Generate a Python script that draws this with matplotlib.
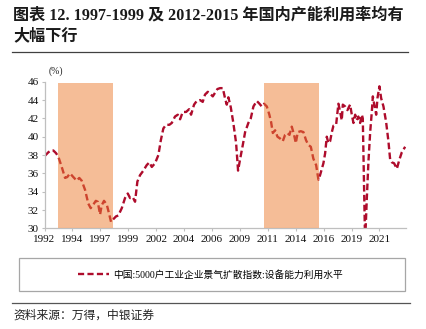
import matplotlib
matplotlib.use("Agg")
import matplotlib.pyplot as plt
from matplotlib.patches import Rectangle
from matplotlib.lines import Line2D

# Capacity utilisation diffusion index (%), decimal-year positions
years = [
    1992.02, 1992.33, 1992.56, 1992.76, 1993.00, 1993.20, 1993.49, 1993.78, 1993.97, 1994.21,
    1994.49, 1994.79, 1995.01, 1995.22, 1995.51, 1995.79, 1996.00, 1996.23, 1996.44, 1996.61,
    1996.81, 1996.95, 1997.15, 1997.39, 1997.59, 1997.76, 1997.96, 1998.19, 1998.39, 1998.69,
    1998.97, 1999.21, 1999.41, 1999.64, 1999.84, 2000.04, 2000.27, 2000.56, 2000.85, 2001.08,
    2001.29, 2001.57, 2001.86, 2002.07, 2002.29, 2002.52, 2002.81, 2003.02, 2003.30, 2003.54,
    2003.74, 2003.97, 2004.26, 2004.52, 2004.69, 2004.95, 2005.18, 2005.47, 2005.70, 2005.90,
    2006.14, 2006.34, 2006.57, 2006.77, 2006.97, 2007.20, 2007.44, 2007.63, 2007.78, 2007.92,
    2008.13, 2008.35, 2008.59, 2008.76, 2008.93, 2009.17, 2009.37, 2009.65, 2009.86, 2010.09,
    2010.38, 2010.61, 2010.81, 2011.01, 2011.25, 2011.47, 2011.62, 2011.77, 2011.97, 2012.17,
    2012.40, 2012.63, 2012.83, 2013.03, 2013.21, 2013.41, 2013.61, 2013.76, 2013.93, 2014.19,
    2014.42, 2014.65, 2014.85, 2015.06, 2015.28, 2015.52, 2015.72, 2015.86, 2016.15, 2016.30,
    2016.44, 2016.58, 2016.73, 2016.88, 2017.02, 2017.25, 2017.45, 2017.60, 2017.74, 2017.83,
    2018.03, 2018.23, 2018.46, 2018.61, 2018.75, 2018.90, 2019.04, 2019.18, 2019.33, 2019.48,
    2019.56, 2019.76, 2019.91, 2020.05, 2020.20, 2020.34, 2020.43, 2020.54, 2020.72, 2020.83,
    2021.00, 2021.15, 2021.35, 2021.58, 2021.78, 2021.93, 2022.08, 2022.27, 2022.51, 2022.73,
    2022.94, 2023.23,
]
utilisation = [
    37.9, 38.3, 38.5, 38.5, 38.2, 37.8, 36.7, 35.5, 35.6, 36.0,
    35.6, 35.2, 35.5, 35.2, 34.2, 32.7, 32.2, 32.6, 33.0, 32.9,
    31.5, 32.5, 33.0, 32.6, 31.6, 30.7, 31.0, 31.3, 31.4, 32.2,
    33.3, 33.8, 33.3, 33.4, 32.9, 35.1, 35.8, 36.3, 36.9, 37.2,
    36.7, 37.1, 38.0, 39.6, 40.9, 41.3, 41.3, 41.5, 42.2, 42.4,
    41.9, 42.7, 42.7, 43.0, 42.4, 43.5, 43.9, 44.0, 43.8, 44.6,
    44.9, 44.7, 44.4, 44.8, 45.2, 45.3, 45.3, 44.2, 43.5, 44.3,
    43.2, 41.5, 39.3, 36.3, 37.5, 39.1, 40.5, 41.5, 42.0, 43.3,
    43.9, 43.6, 43.3, 43.6, 43.3, 42.4, 41.6, 40.4, 40.7, 40.0,
    39.8, 39.5, 40.2, 40.4, 40.2, 41.1, 40.2, 39.3, 40.5, 40.6,
    40.5, 39.6, 39.1, 38.9, 37.6, 36.9, 35.3, 35.8, 37.1, 38.2,
    40.0, 39.3, 39.5, 40.5, 41.2, 41.3, 43.6, 42.7, 41.8, 43.5,
    43.3, 42.9, 43.5, 42.4, 41.5, 42.4, 41.8, 42.2, 41.5, 42.4,
    42.0, 28.5, 33.3, 37.3, 40.5, 42.7, 44.4, 43.6, 42.4, 44.2,
    45.5, 44.2, 43.3, 41.6, 39.5, 37.5, 37.2, 37.1, 36.5, 37.5,
    38.3, 38.9,
]

# Periods of falling utilisation
shade_spans = [(1993.2, 1997.95), (2011.0, 2015.8)]

# Category-style tick labels, one every 29 months
tick_labels = ["1992", "1994", "1997", "1999", "2002", "2004", "2006",
               "2009", "2011", "2014", "2016", "2019", "2021"]
tick_pos = [1992 + i * 29 / 12 for i in range(len(tick_labels))]

y_ticks = list(range(30, 47, 2))

series_name = "中国:5000户工业企业景气扩散指数:设备能力利用水平"
title_lines = ["图表 12. 1997-1999 及 2012-2015 年国内产能利用率均有", "大幅下行"]
source_text = "资料来源：万得，中银证券"

LINE_RED = "#AE0C2C"
SHADE = "#ED7D31"
FONTS = ["Liberation Serif", "Noto Sans CJK SC", "DejaVu Sans"]


def main():
    plt.rcParams["font.family"] = FONTS
    fig = plt.figure(figsize=(4.26, 3.29), dpi=100)

    draw_header(fig)
    ax = fig.add_axes([0.1045, 0.306, 0.8485, 0.4456])
    draw_series(ax)
    draw_footer(fig)

    fig.savefig("out.png", dpi=100)
    plt.close(fig)


def draw_header(fig):
    bold = dict(fontsize=11.6, fontweight="bold", color="#1a1a1a",
                ha="left", va="center", family=FONTS)
    fig.text(13 / 426, 1 - 15 / 329, title_lines[0], **bold)
    fig.text(13 / 426, 1 - 36 / 329, title_lines[1], **bold)
    fig.add_artist(Line2D([12 / 426, 408 / 426], [1 - 52 / 329] * 2,
                          color="#404040", lw=0.9, transform=fig.transFigure))


def draw_series(ax):
    ax.plot(years, utilisation, color=LINE_RED, lw=1.7,
            dashes=(2.8, 1.4), zorder=2)
    for start, end in shade_spans:
        ax.axvspan(start, end, ymax=(45.85 - 30) / 16, color=SHADE,
                   alpha=0.5, lw=0, zorder=3)

    ax.set_xlim(1992, 2023.3)
    ax.set_ylim(30, 46)
    ax.set_xticks(tick_pos)
    ax.set_xticklabels(tick_labels)
    ax.set_yticks(y_ticks)

    for side in ("top", "right"):
        ax.spines[side].set_visible(False)
    for side in ("left", "bottom"):
        ax.spines[side].set_color("#BFBFBF")
        ax.spines[side].set_linewidth(0.9)
    ax.tick_params(axis="both", colors="#BFBFBF", length=2.5, width=0.8,
                   labelcolor="#111111", labelsize=8, pad=1.5)
    ax.tick_params(axis="x", pad=2)

    ax.text(0.01, 1.075, "(%)", transform=ax.transAxes, fontsize=7,
            ha="left", va="center", color="#222222")


def draw_footer(fig):
    # framed legend box
    x0, x1 = 19 / 426, 405 / 426
    y0, y1 = 1 - 291 / 329, 1 - 258 / 329
    fig.add_artist(Rectangle((x0, y0), x1 - x0, y1 - y0, transform=fig.transFigure,
                             fill=False, edgecolor="#A6A6A6", lw=0.9))
    handle = Line2D([], [], color=LINE_RED, lw=1.7, dashes=(2.6, 1.4))
    fig.legend([handle], [series_name], loc="center",
               bbox_to_anchor=(210 / 426, (y0 + y1) / 2), frameon=False,
               prop={"family": FONTS, "size": 7}, handlelength=3.2,
               handletextpad=0.4)

    fig.add_artist(Line2D([12 / 426, 410 / 426], [1 - 303 / 329] * 2,
                          color="#555555", lw=0.9, transform=fig.transFigure))
    fig.text(13 / 426, 1 - 316 / 329, source_text, fontsize=8.5, style="italic",
             ha="left", va="center", color="#222222", family=FONTS)


if __name__ == "__main__":
    main()
